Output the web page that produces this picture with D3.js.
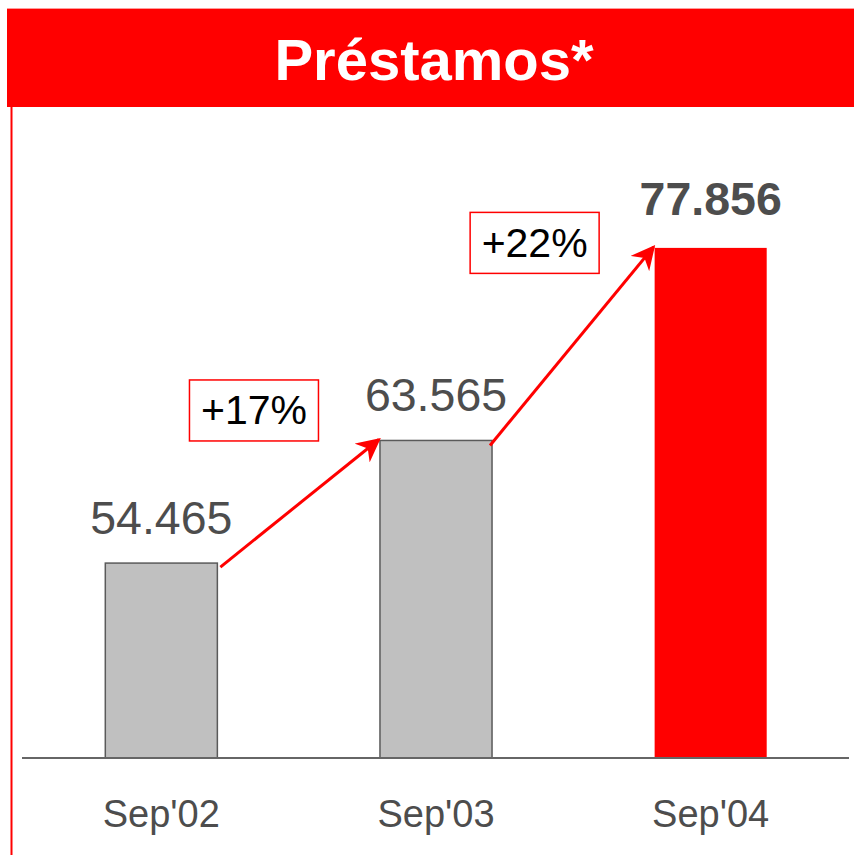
<!DOCTYPE html>
<html>
<head>
<meta charset="utf-8">
<script src="https://cdn.jsdelivr.net/npm/d3@7"></script>
<style>
    body { margin: 0; background: #fff; }
    svg { display: block; font-family: Arial, "Liberation Sans", sans-serif; }
</style>
</head>
<body>
<svg width="854" height="855"></svg>
<script>
const title = 'Préstamos*';
const categories = ["Sep'02", "Sep'03", "Sep'04"];
const values = [54465, 63565, 77856];
const value_labels = ['54.465', '63.565', '77.856'];
const growth_labels = ['+17%', '+22%'];

const svg = d3.select('svg');

const red = '#ff0000';
const grey_text = '#4d4d4d';

// header band
svg.append('rect')
    .attr('x', 7).attr('y', 9)
    .attr('width', 847).attr('height', 98)
    .attr('fill', red);
svg.append('line')
    .attr('x1', 7).attr('x2', 854)
    .attr('y1', 8.5).attr('y2', 8.5)
    .attr('stroke', '#ff9a9a').attr('stroke-width', 1);

svg.append('text')
    .attr('x', 434).attr('y', 80)
    .attr('text-anchor', 'middle')
    .attr('font-size', 58).attr('font-weight', 'bold')
    .attr('fill', '#fff')
    .text(title);

// left red rule
svg.append('line')
    .attr('x1', 11.5).attr('x2', 11.5)
    .attr('y1', 107).attr('y2', 855)
    .attr('stroke', red).attr('stroke-width', 2);

const x = d3.scaleBand()
    .domain(categories)
    .range([24, 848])
    .paddingInner(0.592)
    .paddingOuter(0.296);

const y = d3.scaleLinear()
    .domain([40000, 80000])
    .range([758, 219]);

svg.append('defs').append('marker')
    .attr('id', 'arrow')
    .attr('viewBox', '0 0 10 10')
    .attr('refX', 9).attr('refY', 5)
    .attr('markerWidth', 8).attr('markerHeight', 8)
    .attr('markerUnits', 'strokeWidth')
    .attr('orient', 'auto')
    .append('path')
    .attr('d', 'M0,0 L10,5 L0,10 L3,5 Z')
    .attr('fill', red);

// bars
svg.selectAll('.bar')
    .data(values)
    .enter().append('rect')
    .attr('class', 'bar')
    .attr('x', (d, i) => x(categories[i]))
    .attr('y', d => y(d))
    .attr('width', x.bandwidth())
    .attr('height', d => y.range()[0] - y(d))
    .attr('fill', (d, i) => i === values.length - 1 ? red : '#c0c0c0')
    .attr('stroke', (d, i) => i === values.length - 1 ? 'none' : '#5a5a5a')
    .attr('stroke-width', 1.5);

// baseline
svg.append('line')
    .attr('x1', 22).attr('x2', 849)
    .attr('y1', 758).attr('y2', 758)
    .attr('stroke', '#666').attr('stroke-width', 2);

// value labels
svg.selectAll('.val')
    .data(values)
    .enter().append('text')
    .attr('class', 'val')
    .attr('x', (d, i) => x(categories[i]) + x.bandwidth() / 2)
    .attr('y', (d, i) => y(d) - (i === values.length - 1 ? 33 : 29))
    .attr('text-anchor', 'middle')
    .attr('font-size', 46.5)
    .attr('font-weight', (d, i) => i === values.length - 1 ? 'bold' : 'normal')
    .attr('fill', grey_text)
    .text((d, i) => value_labels[i]);

// category labels
svg.selectAll('.cat')
    .data(categories)
    .enter().append('text')
    .attr('class', 'cat')
    .attr('x', d => x(d) + x.bandwidth() / 2)
    .attr('y', 827)
    .attr('text-anchor', 'middle')
    .attr('font-size', 38)
    .attr('fill', grey_text)
    .text(d => d);

// growth arrows + boxes
const box_offsets = [[-126, -30], [-120, -5]];

growth_labels.forEach(function (lbl, i) {
    let x0 = x(categories[i]) + x.bandwidth(),
        y0 = y(values[i]),
        x1 = x(categories[i + 1]),
        y1 = y(values[i + 1]);

    svg.append('line')
        .attr('x1', x0 + (i === 0 ? 3 : -2)).attr('y1', y0 + (i === 0 ? 4 : 5))
        .attr('x2', x1 - 1).attr('y2', y1 - 1)
        .attr('stroke', red).attr('stroke-width', 3)
        .attr('marker-end', 'url(#arrow)');

    let cx = x1 + box_offsets[i][0],
        cy = y1 + box_offsets[i][1];

    svg.append('rect')
        .attr('x', cx - 64.5).attr('y', cy - 30.5)
        .attr('width', 129).attr('height', 61)
        .attr('fill', '#fff')
        .attr('stroke', red).attr('stroke-width', 1.5);

    svg.append('text')
        .attr('x', cx).attr('y', cy + 14)
        .attr('text-anchor', 'middle')
        .attr('font-size', 41)
        .attr('fill', '#000')
        .text(lbl);
});
</script>
</body>
</html>
